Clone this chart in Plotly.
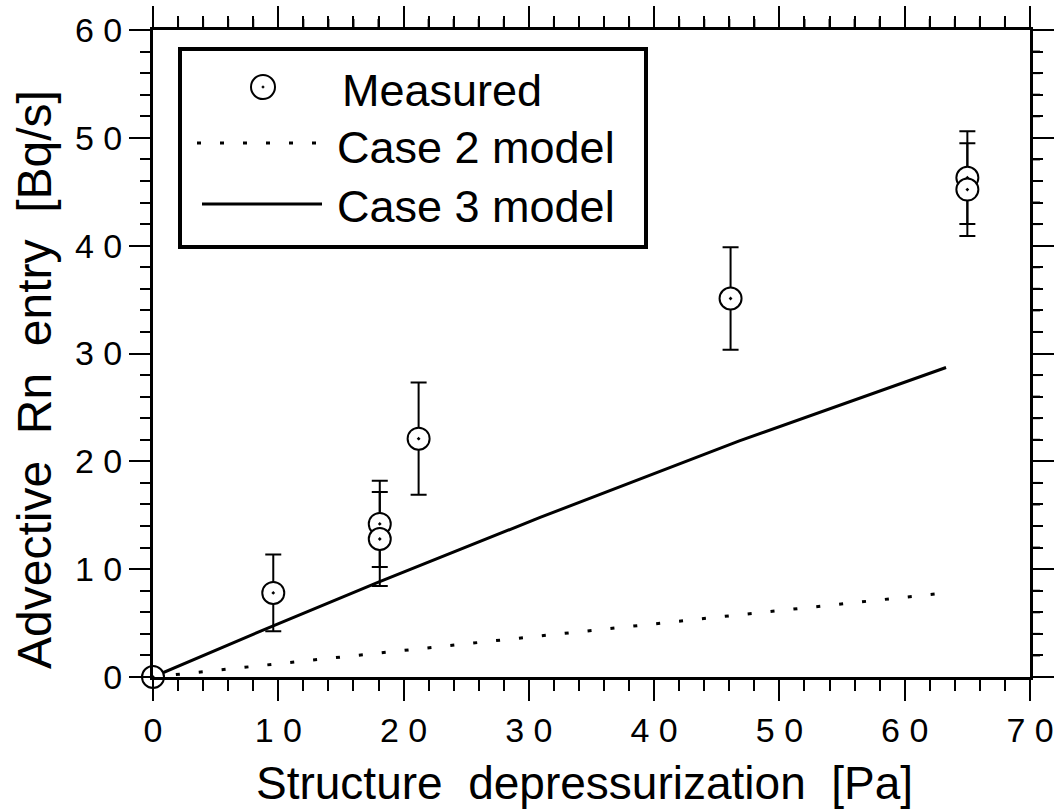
import plotly.graph_objects as go

# Measured advective radon entry vs. structure depressurization
pressure_pa = [0, 9.6, 18.1, 18.1, 21.2, 46.1, 65.0, 65.0]
entry_bqs = [0, 7.8, 14.2, 12.8, 22.1, 35.1, 46.3, 45.2]
entry_err = [0, 3.55, 4.0, 4.35, 5.2, 4.75, 4.3, 4.3]

# Model curves
case2_x = [0, 31.7, 63.3]
case2_y = [0, 3.9, 7.8]
case3_x = [0, 9.5, 18.0, 30.9, 46.8, 63.3]
case3_y = [0, 4.7, 8.8, 14.8, 21.9, 28.7]

x_ticks = [0, 10, 20, 30, 40, 50, 60, 70]
x_tick_text = ["0", "1 0", "2 0", "3 0", "4 0", "5 0", "6 0", "7 0"]
y_ticks = [0, 10, 20, 30, 40, 50, 60]
y_tick_text = ["0", "1 0", "2 0", "3 0", "4 0", "5 0", "6 0"]
x_minor_ticks = [v for v in range(0, 71, 2) if v % 10]
y_minor_ticks = [v for v in range(0, 61, 2) if v % 10]

legend_labels = ["Measured", "Case 2 model", "Case 3 model"]
x_title = "Structure  depressurization  [Pa]"
y_title = "Advective  Rn  entry  [Bq/s]"

FONT = "Liberation Sans, Arial, Helvetica, sans-serif"
DOTS = "4px,19px"

W, H = 1061, 810
ML, MR, MT, MB = 153, 31, 30, 133
PW, PH = W - ML - MR, H - MT - MB


def px(xp):
    """Horizontal pixel position -> paper coordinate."""
    return (xp - ML) / PW


def py(yp):
    """Vertical pixel position -> paper coordinate."""
    return (H - MB - yp) / PH


fig = go.Figure()

fig.add_trace(go.Scatter(
    x=case2_x, y=case2_y, mode="lines", name=legend_labels[1],
    line=dict(color="black", width=3, dash=DOTS),
))
fig.add_trace(go.Scatter(
    x=case3_x, y=case3_y, mode="lines", name=legend_labels[2],
    line=dict(color="black", width=3),
))
fig.add_trace(go.Scatter(
    x=pressure_pa, y=entry_bqs, mode="markers", name=legend_labels[0],
    marker=dict(symbol="circle-dot", size=22, color="white",
                line=dict(color="black", width=2)),
    error_y=dict(type="data", array=entry_err, visible=True,
                 color="black", thickness=2, width=8),
    cliponaxis=False,
))

tick_common = dict(
    showline=True, linecolor="black", linewidth=3, mirror="ticks",
    ticks="outside", ticklen=21, tickwidth=2, tickcolor="black",
    showgrid=False, zeroline=False,
    tickfont=dict(family=FONT, size=34, color="black"),
)

fig.update_layout(
    width=W, height=H,
    margin=dict(l=ML, r=MR, t=MT, b=MB, autoexpand=False),
    paper_bgcolor="white", plot_bgcolor="white",
    showlegend=False,
    xaxis=dict(range=[0, 70], tickvals=x_ticks, ticktext=x_tick_text,
               minor=dict(dtick=2, ticks="outside", ticklen=11, tickwidth=2,
                          tickcolor="black"),
               **tick_common),
    yaxis=dict(range=[0, 60], tickvals=y_ticks, ticktext=y_tick_text,
               minor=dict(dtick=2, ticks="outside", ticklen=10, tickwidth=2,
                          tickcolor="black"),
               **tick_common),
)

# short ticks along the top and right frame
for v in x_minor_ticks:
    fig.add_shape(type="line", xref="x", yref="paper", x0=v, x1=v,
                  ysizemode="pixel", yanchor=1, y0=0, y1=11,
                  line=dict(color="black", width=2), layer="above")
for v in y_minor_ticks:
    fig.add_shape(type="line", xref="paper", yref="y", y0=v, y1=v,
                  xsizemode="pixel", xanchor=1, x0=0, x1=10,
                  line=dict(color="black", width=2), layer="above")

# axis titles
fig.add_annotation(text=x_title, xref="paper", yref="paper",
                   x=px(584), y=py(783), xanchor="center", yanchor="middle",
                   showarrow=False, font=dict(family=FONT, size=46, color="black"))
fig.add_annotation(text=y_title, xref="paper", yref="paper", textangle=-90,
                   x=px(34), y=py(380), xanchor="center", yanchor="middle",
                   showarrow=False, font=dict(family=FONT, size=48, color="black"))

# legend box
fig.add_shape(type="rect", xref="paper", yref="paper",
              x0=px(180), x1=px(646), y0=py(247), y1=py(49),
              line=dict(color="black", width=4), fillcolor="white", layer="below")
# legend samples
fig.add_shape(type="circle", xref="paper", yref="paper",
              xsizemode="pixel", ysizemode="pixel",
              xanchor=px(263), yanchor=py(87), x0=-12, x1=12, y0=-12, y1=12,
              line=dict(color="black", width=2), fillcolor="white", layer="above")
fig.add_shape(type="circle", xref="paper", yref="paper",
              xsizemode="pixel", ysizemode="pixel",
              xanchor=px(263), yanchor=py(87), x0=-1, x1=1, y0=-1, y1=1,
              line=dict(color="black", width=1), fillcolor="black", layer="above")
fig.add_shape(type="line", xref="paper", yref="paper",
              x0=px(197), x1=px(316), y0=py(143), y1=py(143),
              line=dict(color="black", width=3, dash=DOTS), layer="above")
fig.add_shape(type="line", xref="paper", yref="paper",
              x0=px(202), x1=px(322), y0=py(204), y1=py(204),
              line=dict(color="black", width=3), layer="above")
# legend labels
for label, xp, yp in zip(legend_labels, [340, 335, 335], [90, 147, 206]):
    fig.add_annotation(text=label, xref="paper", yref="paper",
                       x=px(xp), y=py(yp), xanchor="left", yanchor="middle",
                       showarrow=False, font=dict(family=FONT, size=45, color="black"))

fig.write_html("out.html")
